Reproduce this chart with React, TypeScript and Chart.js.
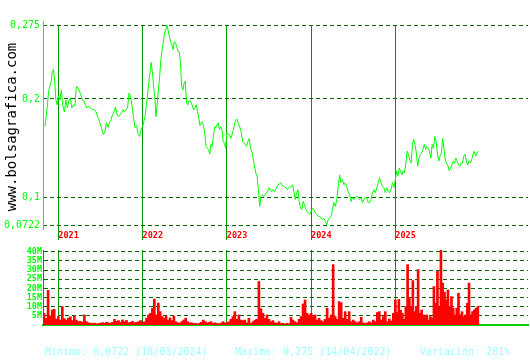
import React, { useEffect, useRef } from "react";
import { Chart, registerables } from "chart.js";

Chart.register(...registerables);

// ---- axes ----
const yearTicks = [2021, 2022, 2023, 2024, 2025];
const priceTicks = [0.0722, 0.1, 0.2, 0.275];
const volumeTicks = [5, 10, 15, 20, 25, 30, 35, 40]; // millions
const xMin = 2020.818;
const xMax = 2026.575;
const volumeMax = 41;

// ---- prices (evenly spread inside each year) ----
const firstPriceDate = 2020.842;
const prices2020 = [0.172, 0.182, 0.194, 0.208, 0.213, 0.217, 0.228, 0.23, 0.218, 0.199, 0.194];
const prices2021 = [
  0.203, 0.199, 0.209, 0.193, 0.187, 0.199, 0.191, 0.198, 0.201, 0.191,
  0.194, 0.193, 0.213, 0.211, 0.208, 0.204, 0.199, 0.198, 0.194, 0.191,
  0.193, 0.191, 0.19, 0.189, 0.189, 0.187, 0.182, 0.179, 0.174, 0.169,
  0.164, 0.167, 0.176, 0.171, 0.176, 0.179, 0.184, 0.187, 0.192, 0.184,
  0.182, 0.184, 0.186, 0.189, 0.187, 0.189, 0.191, 0.206, 0.203, 0.193,
  0.181, 0.171, 0.173, 0.164, 0.162, 0.169,
];
const prices2022 = [
  0.172, 0.177, 0.182, 0.193, 0.203, 0.216, 0.226, 0.237, 0.228, 0.213,
  0.203, 0.182, 0.196, 0.209, 0.223, 0.24, 0.25, 0.258, 0.267, 0.27,
  0.275, 0.269, 0.263, 0.258, 0.255, 0.25, 0.258, 0.257, 0.253, 0.248,
  0.248, 0.237, 0.213, 0.209, 0.216, 0.218, 0.196, 0.194, 0.198, 0.198,
  0.196, 0.192, 0.189, 0.191, 0.194, 0.187, 0.181, 0.173, 0.176, 0.177,
  0.172, 0.164, 0.152, 0.15, 0.149, 0.144, 0.154, 0.152, 0.162, 0.172,
  0.171, 0.174, 0.176, 0.169, 0.172, 0.169, 0.157, 0.155, 0.15,
];
const prices2023 = [
  0.166, 0.164, 0.164, 0.16, 0.164, 0.169, 0.176, 0.179, 0.179, 0.174,
  0.171, 0.166, 0.157, 0.155, 0.154, 0.152, 0.157, 0.16, 0.15, 0.147,
  0.14, 0.132, 0.125, 0.122, 0.108, 0.091, 0.101, 0.103, 0.101, 0.103,
  0.105, 0.106, 0.11, 0.108, 0.106, 0.108, 0.106, 0.108, 0.111, 0.113,
  0.114, 0.115, 0.113, 0.111, 0.111, 0.11, 0.108, 0.11, 0.111, 0.111,
  0.113, 0.106, 0.098, 0.105, 0.108, 0.096, 0.089, 0.088, 0.096, 0.093,
  0.088, 0.086, 0.084, 0.083,
];
const prices2024 = [
  0.086, 0.089, 0.088, 0.084, 0.083, 0.081, 0.081, 0.079, 0.078, 0.079,
  0.076, 0.0722, 0.078, 0.079, 0.081, 0.088, 0.095, 0.091, 0.098, 0.111,
  0.123, 0.115, 0.118, 0.113, 0.115, 0.111, 0.106, 0.103, 0.096, 0.1,
  0.098, 0.1, 0.101, 0.101, 0.098, 0.1, 0.095, 0.098, 0.1, 0.1,
  0.095, 0.095, 0.098, 0.105, 0.108, 0.105, 0.11, 0.115, 0.12, 0.115,
  0.111, 0.11, 0.105, 0.11, 0.106, 0.105, 0.108, 0.115, 0.11,
];
const prices2025 = [
  0.118, 0.127, 0.122, 0.13, 0.127, 0.123, 0.127, 0.125, 0.135, 0.147,
  0.144, 0.138, 0.135, 0.154, 0.159, 0.154, 0.145, 0.132, 0.14, 0.144,
  0.145, 0.149, 0.154, 0.149, 0.152, 0.15, 0.147, 0.14, 0.154, 0.15,
  0.162, 0.157, 0.144, 0.137, 0.142, 0.145, 0.16, 0.149, 0.138, 0.135,
  0.132, 0.127, 0.13, 0.133, 0.137, 0.135, 0.14, 0.137, 0.133, 0.132,
  0.135, 0.135, 0.142, 0.144, 0.137, 0.133, 0.137, 0.135, 0.138, 0.144,
  0.147, 0.142, 0.145, 0.147,
];

// ---- volumes, millions (evenly spread inside each year) ----
const firstVolumeDate = 2020.83;
const volumes2020 = [6.4, 3.7, 18.9, 5.0, 8.2, 8.6, 3.2];
const volumes2021 = [
  4.6, 2.7, 10.1, 3.5, 2.7, 3.7, 4.5, 2.4, 4.9, 2.7,
  1.8, 2.0, 1.5, 5.5, 1.8, 1.2, 1.0, 0.8, 1.0, 0.6,
  0.8, 1.0, 1.3, 1.0, 1.5, 1.2, 1.0, 1.5, 3.1, 2.0,
  2.4, 1.5, 2.8, 1.8, 2.5, 1.2, 1.5, 2.0, 1.2, 1.5,
  1.8, 2.4,
];
const volumes2022 = [
  1.5, 1.8, 3.7, 5.5, 6.4, 9.2, 14.2, 5.5, 12.0, 7.3,
  4.6, 3.7, 5.0, 2.7, 3.9, 2.4, 4.9, 1.8, 1.2, 1.0,
  1.8, 2.7, 3.7, 1.8, 1.2, 1.2, 0.8, 0.9, 0.6, 0.9,
  1.5, 2.7, 1.8, 1.2, 1.5, 1.8, 0.8, 1.2, 0.8, 0.7,
  1.0, 1.8, 1.2,
];
const volumes2023 = [
  1.2, 1.8, 3.1, 4.6, 7.3, 3.1, 5.5, 2.7, 2.4, 2.7,
  1.2, 3.7, 0.9, 1.8, 2.7, 3.1, 23.8, 8.9, 6.4, 3.7,
  5.5, 3.1, 1.8, 2.4, 1.2, 1.0, 1.8, 0.8, 1.0, 0.6,
  0.9, 0.7, 4.2, 2.7, 1.8, 1.2, 3.1, 4.6, 11.5, 13.7,
  6.4, 5.5,
];
const volumes2024 = [
  6.4, 4.6, 5.5, 2.7, 3.7, 2.4, 1.8, 3.1, 9.2, 3.7,
  5.5, 33.0, 4.6, 3.1, 12.8, 12.2, 3.7, 7.3, 3.1, 7.3,
  1.8, 2.7, 1.8, 1.2, 1.8, 4.2, 1.2, 0.8, 1.2, 1.8,
  1.2, 2.7, 1.8, 6.8, 7.3, 2.7, 4.6, 7.3, 1.8, 3.3,
  2.2, 6.4,
];
const volumes2025 = [
  13.7, 6.8, 14.0, 8.0, 6.4, 3.1, 10.0, 33.0, 14.5, 10.0,
  24.3, 7.3, 10.0, 30.3, 6.4, 8.2, 5.5, 4.6, 5.5, 2.7,
  4.6, 3.7, 21.0, 11.9, 29.3, 10.0, 41.0, 22.9, 18.0, 13.7,
  19.2, 10.1, 15.5, 9.2, 5.5, 9.2, 17.4, 5.5, 7.3, 4.6,
  5.5, 11.9, 22.9, 5.5, 7.3, 8.2, 9.2, 10.1,
];

// ---- texts ----
const watermarkText = "www.bolsagrafica.com";
const minimumText = "Minimo: 0,0722 (18/03/2024)";
const maximumText = "Maximo: 0,275 (14/04/2022)";
const variationText = "Variación: 281%";

function spread(start: number, end: number, values: number[]) {
  const step = (end - start) / values.length;
  return values.map((v, i) => ({ x: start + i * step, y: v }));
}

const pricePoints = [
  ...spread(firstPriceDate, 2021, prices2020),
  ...spread(2021, 2022, prices2021),
  ...spread(2022, 2023, prices2022),
  ...spread(2023, 2024, prices2023),
  ...spread(2024, 2025, prices2024),
  ...spread(2025, 2026, prices2025),
];

const volumePoints = [
  ...spread(firstVolumeDate, 2021, volumes2020),
  ...spread(2021, 2022, volumes2021),
  ...spread(2022, 2023, volumes2022),
  ...spread(2023, 2024, volumes2023),
  ...spread(2024, 2025, volumes2024),
  ...spread(2025, 2026, volumes2025),
];

const MONO = "'DejaVu Sans Mono', monospace";
const YEAR_LINE = "#009900";
const GRID_DASH = "#006400";

const watermarkPlugin = {
  id: "watermark",
  afterDraw(chart: any) {
    const ctx = chart.ctx;
    ctx.save();
    ctx.translate(12, 127);
    ctx.rotate(-Math.PI / 2);
    ctx.font = `14px ${MONO}`;
    ctx.fillStyle = "#000000";
    ctx.textAlign = "center";
    ctx.textBaseline = "middle";
    ctx.fillText(watermarkText, 0, 0);
    ctx.restore();
  },
};

const leftAxisPlugin = {
  id: "leftAxis",
  afterDraw(chart: any) {
    const { ctx, chartArea } = chart;
    const x = Math.round(chartArea.left) + 0.5;
    ctx.save();
    ctx.strokeStyle = "#22ee22";
    ctx.lineWidth = 1;
    ctx.beginPath();
    ctx.moveTo(x, chartArea.top - 4);
    ctx.lineTo(x, chartArea.bottom + 5);
    ctx.stroke();
    ctx.restore();
  },
};

const infoPlugin = {
  id: "info",
  afterDraw(chart: any) {
    const ctx = chart.ctx;
    ctx.save();
    ctx.font = `10px ${MONO}`;
    ctx.fillStyle = "#a0ffff";
    ctx.textAlign = "left";
    ctx.textBaseline = "alphabetic";
    ctx.fillText(minimumText, 45, 115);
    ctx.fillText(maximumText, 235, 115);
    ctx.fillText(variationText, 420, 115);
    ctx.restore();
  },
};

export default function App() {
  const priceRef = useRef<HTMLCanvasElement>(null);
  const volumeRef = useRef<HTMLCanvasElement>(null);

  useEffect(() => {
    const priceChart = new Chart(priceRef.current as HTMLCanvasElement, {
      type: "line",
      data: {
        datasets: [
          {
            data: pricePoints,
            borderColor: "#00ff00",
            borderWidth: 1,
            pointRadius: 0,
            tension: 0,
            fill: false,
          },
        ],
      },
      options: {
        animation: false,
        responsive: false,
        devicePixelRatio: 1,
        events: [],
        layout: { padding: { top: 25, right: 2, left: 0, bottom: 0 } },
        plugins: { legend: { display: false }, tooltip: { enabled: false } },
        scales: {
          x: {
            type: "linear",
            min: xMin,
            max: xMax,
            afterBuildTicks: (s: any) => {
              s.ticks = yearTicks.map((v) => ({ value: v }));
            },
            afterFit: (s: any) => {
              s.height = 20;
            },
            grid: { color: YEAR_LINE, drawTicks: true, tickLength: 15, tickColor: YEAR_LINE },
            border: { display: false },
            ticks: {
              color: "#ff0000",
              font: { family: MONO, size: 8.5, weight: "bold" },
              align: "start",
              padding: -9,
              maxRotation: 0,
              autoSkip: false,
              callback: (v: any) => String(v),
            },
          },
          y: {
            type: "linear",
            min: priceTicks[0],
            max: priceTicks[priceTicks.length - 1],
            afterBuildTicks: (s: any) => {
              s.ticks = priceTicks.map((v) => ({ value: v }));
            },
            afterFit: (s: any) => {
              s.width = 43;
            },
            grid: { color: GRID_DASH, drawTicks: false },
            border: { display: false, dash: [4, 3] },
            ticks: {
              color: "#00ff00",
              font: { family: MONO, size: 10 },
              padding: 3,
              autoSkip: false,
              callback: (v: any) => String(v).replace(".", ","),
            },
          },
        },
      } as any,
      plugins: [watermarkPlugin, leftAxisPlugin],
    });

    const volumeChart = new Chart(volumeRef.current as HTMLCanvasElement, {
      type: "bar",
      data: {
        datasets: [
          {
            data: volumePoints,
            backgroundColor: "#ff0000",
            borderWidth: 0,
            barThickness: 2,
          },
        ],
      },
      options: {
        animation: false,
        responsive: false,
        devicePixelRatio: 1,
        events: [],
        layout: { padding: { top: 10, right: 2, left: 0, bottom: 0 } },
        plugins: { legend: { display: false }, tooltip: { enabled: false } },
        scales: {
          x: {
            type: "linear",
            min: xMin,
            max: xMax,
            offset: false,
            afterBuildTicks: (s: any) => {
              s.ticks = yearTicks.map((v) => ({ value: v }));
            },
            afterFit: (s: any) => {
              s.height = 35;
            },
            grid: { color: YEAR_LINE, drawTicks: false, offset: false },
            border: { display: true, color: "#00cc00", width: 2 },
            ticks: { display: false },
          },
          y: {
            type: "linear",
            min: 0,
            max: volumeMax,
            afterBuildTicks: (s: any) => {
              s.ticks = volumeTicks.map((v) => ({ value: v }));
            },
            afterFit: (s: any) => {
              s.width = 43;
            },
            grid: { color: GRID_DASH, drawTicks: false },
            border: { display: true, color: YEAR_LINE, dash: [4, 3] },
            ticks: {
              color: "#00ff00",
              font: { family: MONO, size: 8.5, weight: "bold" },
              padding: 1,
              autoSkip: false,
              callback: (v: any) => `${v}M`,
            },
          },
        },
      } as any,
      plugins: [infoPlugin],
    });

    return () => {
      priceChart.destroy();
      volumeChart.destroy();
    };
  }, []);

  return (
    <div style={{ position: "absolute", left: 0, top: 0, width: 530, height: 360, background: "#ffffff" }}>
      <canvas ref={priceRef} width={530} height={245} style={{ position: "absolute", left: 0, top: 0 }} />
      <canvas ref={volumeRef} width={530} height={120} style={{ position: "absolute", left: 0, top: 240 }} />
    </div>
  );
}
